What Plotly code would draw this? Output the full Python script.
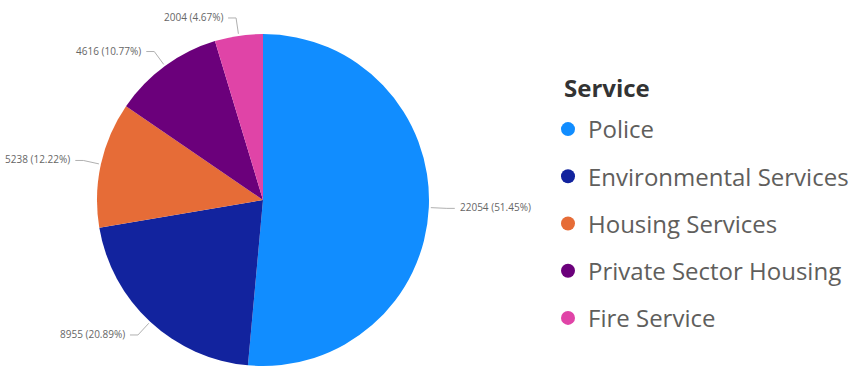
import math
import plotly.graph_objects as go

services = ["Police", "Environmental Services", "Housing Services", "Private Sector Housing", "Fire Service"]
counts = [22054, 8955, 5238, 4616, 2004]
colors = ["#118DFF", "#12239E", "#E66C37", "#6B007B", "#E044A7"]
legend_title = "Service"

W, H = 856, 376
cx, cy, r = 263, 200, 166

fig = go.Figure()
fig.add_trace(go.Pie(
    labels=services, values=counts, sort=False, direction="clockwise", rotation=0,
    marker=dict(colors=colors, line=dict(width=0)), textinfo="none", hoverinfo="label+value+percent",
    showlegend=False,
    domain=dict(x=[(cx - r) / W, (cx + r) / W], y=[1 - (cy + r) / H, 1 - (cy - r) / H]),
))

for n, c in zip(services, colors):
    fig.add_trace(go.Scatter(x=[None], y=[None], mode="markers", name=n, legendgroup=n,
                             marker=dict(size=14, color=c), hoverinfo="skip"))

total = sum(counts)
shapes, annotations = [], []
cum = 0
def P(x, y):
    return x / W, 1 - y / H
for v in counts:
    mid = (cum + v / 2) / total * 2 * math.pi
    cum += v
    s, co = math.sin(mid), -math.cos(mid)
    x1, y1 = cx + (r + 2) * s, cy + (r + 2) * co
    x2, y2 = cx + (r + 18) * s, cy + (r + 18) * co
    sign = 1 if s > 0 else -1
    x3 = x2 + sign * 8
    a1, b1 = P(x1, y1); a2, b2 = P(x2, y2); a3, b3 = P(x3, y2)
    shapes.append(dict(type="path", xref="paper", yref="paper",
                       path=f"M {a1} {b1} L {a2} {b2} L {a3} {b3}",
                       line=dict(color="#B0B0B0", width=1)))
    tx, ty = P(x3 + sign * 3, y2 - 1)
    annotations.append(dict(x=tx, y=ty, xref="paper", yref="paper", showarrow=False,
                            xanchor="left" if sign > 0 else "right", yanchor="middle",
                            text=f"{v} ({v / total * 100:.2f}%)",
                            font=dict(size=10, color="#666666", family="Open Sans")))

tx, ty = P(562, 87)
annotations.append(dict(x=tx, y=ty, xref="paper", yref="paper", showarrow=False,
                        xanchor="left", yanchor="middle", text=f"<b>{legend_title}</b>",
                        font=dict(size=24, color="#333333", family="Open Sans")))

fig.update_layout(
    width=W, height=H, margin=dict(l=0, r=0, t=0, b=0),
    paper_bgcolor="white", plot_bgcolor="white",
    xaxis=dict(visible=False), yaxis=dict(visible=False),
    shapes=shapes, annotations=annotations,
    legend=dict(x=548 / W, y=1 - 107 / H, xanchor="left", yanchor="top",
                font=dict(size=24, color="#605E5C", family="Open Sans"),
                tracegroupgap=13, itemsizing="trace", bgcolor="rgba(0,0,0,0)"),
    font=dict(family="Open Sans"),
)
fig.write_html("out.html")
